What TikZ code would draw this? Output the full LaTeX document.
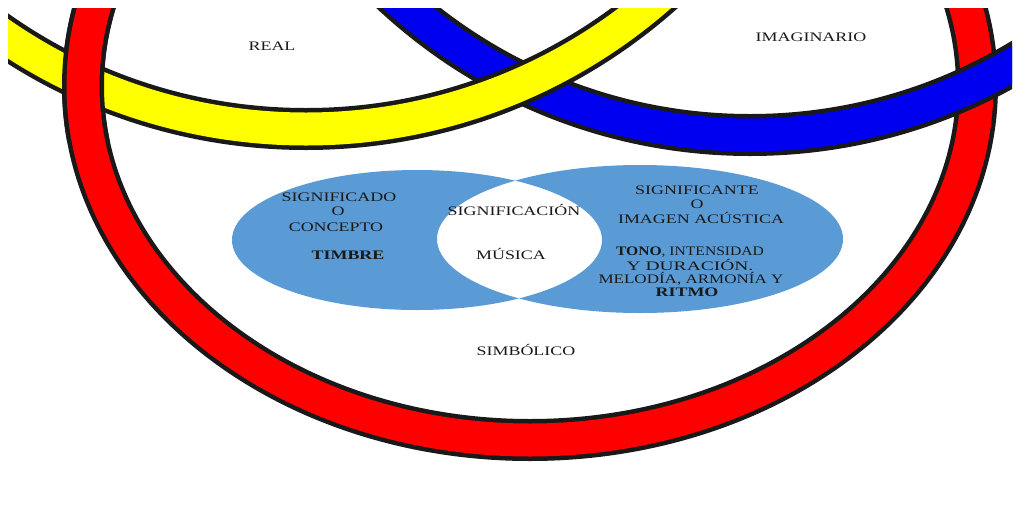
\documentclass[tikz,border=0pt]{standalone}
\usepackage{fontspec}
\setmainfont{Liberation Serif}
\newcommand\sx[2][1.38]{\scalebox{#1}[1]{#2}}
\definecolor{vennblue}{RGB}{91,155,213}
\definecolor{bandred}{RGB}{255,0,0}
\definecolor{bandyellow}{RGB}{255,255,0}
\definecolor{bandblue}{RGB}{0,0,240}
\tikzset{
  band/.style={line width=4.5pt, draw=black!90, double distance=33pt},
  lbl/.style={font=\fontsize{13}{15}\selectfont, text=black!90, inner sep=0pt,
    text height=8.6pt, text depth=0pt, anchor=center},
}
\begin{document}
\begin{tikzpicture}[x=1pt,y=-1pt]
\useasboundingbox (0,0) rectangle (1025,520);
\fill[white] (0,0) rectangle (1025,520);
% Borromean bands
\begin{scope}
  \clip (8,8) rectangle (1012,490);
  \draw[band, double=bandred] (530,86) ellipse[x radius=447pt, y radius=354pt];
  \draw[band, double=bandblue] (750,-390) circle[radius=525pt];
  \draw[band, double=bandyellow] (306,-408) circle[radius=537pt];
  \begin{scope}
    \clip (30,0) rectangle (170,140);
    \draw[band, double=bandred] (530,86) ellipse[x radius=447pt, y radius=354pt];
  \end{scope}
\end{scope}
% Venn diagram
\fill[vennblue, even odd rule] (417,240) ellipse[x radius=185pt, y radius=70pt]
  (640,239) ellipse[x radius=203pt, y radius=74pt];
% labels
\node[lbl] (real) at (272,46) {\sx{REAL}};
\node[lbl] (imag) at (811,37) {\sx{IMAGINARIO}};
\node[lbl] (simb) at (526,351) {\sx{SIMBÓLICO}};
\node[lbl] (sdo1) at (339,197) {\sx{SIGNIFICADO}};
\node[lbl] (sdo2) at (338,211) {\sx{O}};
\node[lbl] (sdo3) at (336,227) {\sx{CONCEPTO}};
\node[lbl] (timbre) at (348,255) {\sx{\textbf{TIMBRE}}};
\node[lbl] (scion) at (514,211) {\sx{SIGNIFICACIÓN}};
\node[lbl] (musica) at (511,255) {\sx{MÚSICA}};
\node[lbl] (ste1) at (697,190) {\sx{SIGNIFICANTE}};
\node[lbl] (ste2) at (697,204) {\sx{O}};
\node[lbl] (ste3) at (701,219) {\sx{IMAGEN ACÚSTICA}};
\node[lbl] (tono) at (690,251) {\sx[1.2]{\textbf{TONO}, INTENSIDAD}};
\node[lbl] (dur) at (690,266) {\sx[1.5]{Y DURACIÓN.}};
\node[lbl] (mel) at (691,279) {\sx[1.31]{MELODÍA, ARMONÍA Y}};
\node[lbl] (ritmo) at (687,292) {\sx{\textbf{RITMO}}};
\end{tikzpicture}
\end{document}
